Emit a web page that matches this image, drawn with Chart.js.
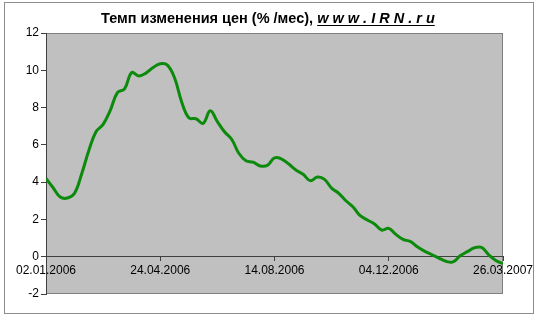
<!DOCTYPE html>
<html>
<head>
<meta charset="utf-8">
<script src="https://cdn.jsdelivr.net/npm/chart.js@4/dist/chart.umd.min.js"></script>
<style>
  html, body { margin: 0; padding: 0; background: #ffffff; }
  #wrap { width: 540px; height: 319px; position: relative; }
</style>
</head>
<body>
<div id="wrap"><canvas id="priceChart" width="540" height="319"></canvas></div>
<script>
// ==================== DATA ====================
// weekly price change rate, % per month (week 0 = 02.01.2006)
const weekIndex = [
    0, 1, 2, 3, 4, 5, 6, 7, 8, 9, 10, 11, 12, 13, 14, 15,
    16, 17, 18, 19, 20, 21, 22, 23, 24, 25, 26, 27, 28, 29, 30, 31,
    32, 33, 34, 35, 36, 37, 38, 39, 40, 41, 42, 43, 44, 45, 46, 47,
    48, 49, 50, 51, 52, 53, 54, 55, 56, 57, 58, 59, 60, 61, 62, 63, 64
];
const rateValues = [
    4.2, 3.7, 3.2, 3.15, 3.4, 4.45, 5.7, 6.7, 7.1, 7.85, 8.8, 9.0, 9.88, 9.7, 9.85, 10.15,
    10.35, 10.28, 9.6, 8.3, 7.45, 7.4, 7.15, 7.83, 7.25, 6.7, 6.3, 5.55, 5.15, 5.07, 4.87, 4.9,
    5.3, 5.24, 4.97, 4.65, 4.42, 4.08, 4.27, 4.15, 3.68, 3.4, 3.0, 2.67, 2.2, 1.97, 1.76, 1.43,
    1.52, 1.2, 0.93, 0.82, 0.53, 0.3, 0.12, -0.07, -0.24, -0.28, 0.05, 0.27, 0.48, 0.5, 0.1, -0.2, -0.38
];
const xTickLabels = ['02.01.2006', '24.04.2006', '14.08.2006', '04.12.2006', '26.03.2007'];
const xTickStep = 16;
const yTicks = [-2, 0, 2, 4, 6, 8, 10, 12];

const titleMain = 'Темп изменения цен (% /мес), ';
const titleLink = 'w w w . I R N . r u';

const FONT = '"Liberation Sans", Arial, sans-serif';

// ==================== PLUGINS ====================
// grey plot area, outer frame and two-style title
const framePlugin = {
    id: 'frame',
    beforeDraw(chart) {
        const ctx = chart.ctx;
        const a = chart.chartArea;
        ctx.save();
        ctx.fillStyle = '#ffffff';
        ctx.fillRect(0, 0, chart.width, chart.height);
        ctx.strokeStyle = '#8c8c8c';
        ctx.lineWidth = 1;
        ctx.strokeRect(4.5, 2.5, 529, 311);
        ctx.fillStyle = '#c0c0c0';
        ctx.fillRect(a.left, a.top, a.right - a.left, a.bottom - a.top);
        ctx.strokeStyle = '#808080';
        ctx.strokeRect(a.left + 0.5, a.top + 0.5, a.right - a.left - 1, a.bottom - a.top - 1);
        ctx.restore();
    },
    afterDraw(chart) {
        const ctx = chart.ctx;
        ctx.save();
        ctx.fillStyle = '#000000';
        ctx.textBaseline = 'alphabetic';
        const fontMain = 'bold 14.5px ' + FONT;
        const fontLink = 'italic bold 14.5px ' + FONT;
        ctx.font = fontMain;
        const w1 = ctx.measureText(titleMain).width;
        ctx.font = fontLink;
        const w2 = ctx.measureText(titleLink).width;
        const cx = 268;
        const x0 = Math.round(cx - (w1 + w2) / 2);
        const y = 23;
        ctx.font = fontMain;
        ctx.fillText(titleMain, x0, y);
        ctx.font = fontLink;
        ctx.fillText(titleLink, x0 + w1, y);
        ctx.fillRect(x0 + w1, y + 2, w2, 1);
        ctx.restore();
    }
};

// ==================== CHART ====================
const ctx = document.getElementById('priceChart').getContext('2d');

new Chart(ctx, {
    type: 'line',
    data: {
        datasets: [{
            data: weekIndex.map((w, i) => ({ x: w, y: rateValues[i] })),
            borderColor: '#0b8a0b',
            borderWidth: 3,
            pointRadius: 0,
            tension: 0.4,
            fill: false
        }]
    },
    options: {
        responsive: false,
        animation: false,
        devicePixelRatio: 1,
        layout: { padding: { left: 0, right: 37, top: 33, bottom: 25 } },
        plugins: {
            legend: { display: false },
            title: { display: false },
            tooltip: { enabled: false }
        },
        scales: {
            x: {
                type: 'linear',
                position: { y: 0 },
                min: weekIndex[0],
                max: weekIndex[weekIndex.length - 1],
                afterFit(scale) { scale.height = 0; },
                grid: {
                    drawOnChartArea: false,
                    drawTicks: true,
                    tickLength: 4,
                    tickColor: '#404040'
                },
                border: { color: '#404040', width: 1 },
                ticks: {
                    stepSize: xTickStep,
                    autoSkip: false,
                    maxRotation: 0,
                    minRotation: 0,
                    padding: 3,
                    color: '#000000',
                    font: { family: FONT, size: 12 },
                    callback: (v) => xTickLabels[v / xTickStep] || ''
                }
            },
            y: {
                min: yTicks[0],
                max: yTicks[yTicks.length - 1],
                afterFit(scale) { scale.width = 46; },
                grid: {
                    drawOnChartArea: false,
                    drawTicks: true,
                    tickLength: 5,
                    tickColor: '#404040'
                },
                border: { color: '#404040', width: 1 },
                ticks: {
                    stepSize: 2,
                    padding: 2,
                    color: '#000000',
                    font: { family: FONT, size: 12 }
                }
            }
        }
    },
    plugins: [framePlugin]
});
</script>
</body>
</html>
